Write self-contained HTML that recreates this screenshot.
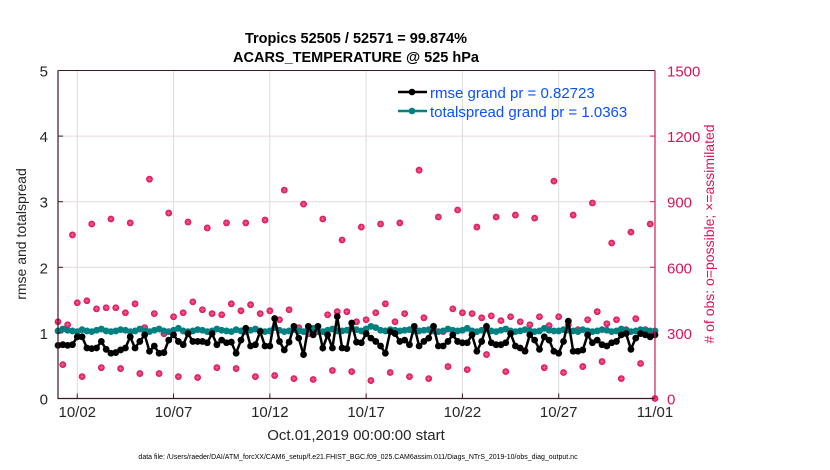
<!DOCTYPE html>
<html><head><meta charset="utf-8">
<style>
html,body{margin:0;padding:0;background:#fff;}
svg{display:block;font-family:"Liberation Sans",Arial,sans-serif;}
</style></head>
<body>
<svg id="chart" width="830" height="470" viewBox="0 0 830 470" xmlns="http://www.w3.org/2000/svg">
  <rect width="830" height="470" fill="#fff"/>
  <text x="356" y="43" text-anchor="middle" font-size="14.5" font-weight="bold" fill="#000">Tropics 52505 / 52571 = 99.874%</text>
  <text x="356" y="62" text-anchor="middle" font-size="14.5" font-weight="bold" fill="#000">ACARS_TEMPERATURE @ 525 hPa</text>
  <g id="grid"></g>
  <g id="series"></g>
  <g id="axes"></g>
  <text transform="translate(26,234) rotate(-90)" text-anchor="middle" font-size="14" fill="#262626">rmse and totalspread</text>
  <text transform="translate(714,234) rotate(-90)" text-anchor="middle" font-size="14" fill="#d6155f"># of obs: o=possible; ×=assimilated</text>
  <text x="356" y="440" text-anchor="middle" font-size="15" fill="#262626">Oct.01,2019 00:00:00 start</text>
  <text x="358" y="459" text-anchor="middle" font-size="7" fill="#000">data file: /Users/raeder/DAI/ATM_forcXX/CAM6_setup/f.e21.FHIST_BGC.f09_025.CAM6assim.011/Diags_NTrS_2019-10/obs_diag_output.nc</text>
  <g>
    <line x1="398" y1="92" x2="427" y2="92" stroke="#000" stroke-width="2.5"/>
    <circle cx="412" cy="92" r="3.3" fill="#000"/>
    <text x="430" y="98" font-size="15" fill="#0a50ff">rmse grand pr = 0.82723</text>
    <line x1="398" y1="111" x2="427" y2="111" stroke="#008080" stroke-width="2.5"/>
    <circle cx="412" cy="111" r="3.3" fill="#008080"/>
    <text x="430" y="117" font-size="15" fill="#0a50ff">totalspread grand pr = 1.0363</text>
  </g>
</svg>
<script>
// time in days since Oct 01 00Z, 6-hourly
const obsCounts = [
351,155,337,748, 438,100,447,798, 410,141,415,821, 415,137,392,803,
433,114,324,1003, 388,114,296,848, 374,100,392,807, 442,96,406,780,
388,141,383,803, 433,137,401,803, 429,100,388,816, 401,105,360,953,
406,91,324,889, 296,87,306,821, 383,128,397,725, 397,123,351,784,
360,82,392,798, 433,119,351,803, 388,100,315,1044, 369,91,315,830,
306,146,410,862, 392,132,388,784, 369,201,378,830, 356,123,374,839,
351,219,337,825, 374,141,333,994, 374,119,337,839, 315,146,360,894,
397,169,342,711, 360,91,315,761, 365,160,315,798, 0];
const rmseValues = [
.81,.82,.81,.82, .94,.94,.77,.76, .77,.87,.75,.69, .70,.74,.77,.94,
.77,.87,.97,.72, .80,.69,.70,.89, .97,.87,.82,.99, .87,.87,.87,.85,
.99,.82,.89,.85, .86,.69,.89,1.07, .80,.82,1.02,.80, .80,1.22,.87,.74,
.86,1.10,.92,.67, 1.10,.97,1.10,.77, .97,.77,1.25,.77, .76,1.15,.86,.85,
.99,.92,.87,.80, .69,1.02,.99,.87, .89,.82,1.10,.80, .87,.92,1.10,.80,
.80,.87,.97,.87, .85,.85,.97,.72, .87,1.10,.85,.82, .82,.85,.99,.80,
.77,.72,.97,.89, .75,.94,.89,.72, .69,.87,1.18,.72, .72,.74,.97,.85,
.89,.82,.80,.85, .87,.97,.99,.75, .92,.99,.97,.94, .97];
const spreadValues = [
1.03,1.06,1.04,1.03, 1.02,1.05,1.03,1.02, 1.04,1.06,1.03,1.02, 1.03,1.05,1.04,1.02,
1.03,1.06,1.03,1.02, 1.04,1.06,1.03,1.02, 1.04,1.07,1.03,1.02, 1.03,1.05,1.04,1.02,
1.03,1.06,1.04,1.03, 1.02,1.05,1.03,1.02, 1.04,1.06,1.03,1.02, 1.03,1.08,1.04,1.02,
1.03,1.05,1.03,1.02, 1.05,1.07,1.03,1.02, 1.04,1.06,1.03,1.03, 1.04,1.07,1.05,1.03,
1.06,1.10,1.08,1.04, 1.03,1.05,1.04,1.03, 1.04,1.05,1.03,1.03, 1.04,1.05,1.03,1.02,
1.03,1.06,1.04,1.03, 1.04,1.07,1.03,1.02, 1.04,1.06,1.03,1.02, 1.04,1.06,1.03,1.02,
1.03,1.05,1.03,1.02, 1.03,1.07,1.04,1.03, 1.03,1.05,1.04,1.03, 1.02,1.05,1.03,1.02,
1.03,1.05,1.04,1.02, 1.03,1.06,1.04,1.02, 1.03,1.05,1.03,1.03, 1.03];
const xTickDays = [1,6,11,16,21,26,31];
const xTickLabels = ["10/02","10/07","10/12","10/17","10/22","10/27","11/01"];
const leftTicks = [0,1,2,3,4,5];
const rightTicks = [0,300,600,900,1200,1500];

const NS = "http://www.w3.org/2000/svg";
const L = 58, R = 655, T = 70.5, B = 398.5;
const X0 = 0, X1 = 31, YMAX = 5, OMAX = 1500;
function xs(t){ return L + (t - X0) / (X1 - X0) * (R - L); }
function yl(v){ return B - v / YMAX * (B - T); }
function yr(v){ return B - v / OMAX * (B - T); }
function mk(tag, attrs, parent){
  const e = document.createElementNS(NS, tag);
  for (const k in attrs) e.setAttribute(k, attrs[k]);
  parent.appendChild(e);
  return e;
}
const grid = document.getElementById('grid');
const series = document.getElementById('series');
const axes = document.getElementById('axes');

xTickDays.forEach((d,i) => {
  const g = mk('line', {x1:xs(d), x2:xs(d), y1:T, y2:B, stroke:'#dcdcdc', 'stroke-width':1}, grid);
  
  
  const tk = mk('line', {x1:xs(d), x2:xs(d), y1:B, y2:B-5, stroke:'#3a1a22', 'stroke-width':1}, axes);
  
  
  const tx = mk('text', {x:xs(d), y:417, 'text-anchor':'middle', 'font-size':15, fill:'#262626'}, axes);
  tx.textContent = xTickLabels[i];
  
  
});
rightTicks.forEach(v => {
  if (v > 0 && v < OMAX) {
    const g = mk('line', {x1:L, x2:R, y1:yr(v), y2:yr(v), stroke:'#ecd6de', 'stroke-width':1}, grid);
    
    
  }
  const tx = mk('text', {x:667, y:yr(v)+6, 'font-size':15, fill:'#d6155f'}, axes);
  tx.textContent = v;
  
  
  const tk = mk('line', {x1:R, x2:R-5, y1:yr(v), y2:yr(v), stroke:'#d6155f'}, axes);
  
  
});
leftTicks.forEach(v => {
  const tx = mk('text', {x:48, y:yl(v)+6, 'text-anchor':'end', 'font-size':15, fill:'#262626'}, axes);
  tx.textContent = v;
  
  
  const tk = mk('line', {x1:L, x2:L+5, y1:yl(v), y2:yl(v), stroke:'#3a1a22'}, axes);
  
  
});
const sp1 = mk('path', {d:`M${L},${T} L${L},${B} L${R},${B}`, fill:'none', stroke:'#3a1a22', 'stroke-width':1.2}, axes);


const sp2 = mk('path', {d:`M${L},${T} L${R},${T}`, fill:'none', stroke:'#3a1a22', 'stroke-width':1}, axes);


const sp3 = mk('line', {x1:R, x2:R, y1:T, y2:B, stroke:'#d6155f', 'stroke-width':1.2}, axes);



const step = 0.25;
obsCounts.forEach((v,i) => {
  const cx = xs(i*step), cy = yr(v);
  const g = mk('g', {}, series);
  
  
  mk('circle', {cx:cx, cy:cy, r:3.4, fill:'#df1a5e'}, g);
  mk('path', {d:`M${cx-2.5},${cy} h5 M${cx},${cy-2.5} v5 M${cx-1.8},${cy-1.8} l3.6,3.6 M${cx-1.8},${cy+1.8} l3.6,-3.6`, stroke:'#f070a0', 'stroke-width':0.5}, g);
});
const spPts = spreadValues.map((v,i) => `${xs(i*step).toFixed(1)},${yl(v).toFixed(1)}`).join(' ');
const spL = mk('polyline', {points:spPts, fill:'none', stroke:'#008080', 'stroke-width':3}, series);


spreadValues.forEach((v,i) => {
  const c = mk('circle', {cx:xs(i*step), cy:yl(v), r:3.4, fill:'#008080'}, series);
  
  
});
const rmPts = rmseValues.map((v,i) => `${xs(i*step).toFixed(1)},${yl(v).toFixed(1)}`).join(' ');
const rmL = mk('polyline', {points:rmPts, fill:'none', stroke:'#000', 'stroke-width':2.5}, series);


rmseValues.forEach((v,i) => {
  const c = mk('circle', {cx:xs(i*step), cy:yl(v), r:3.4, fill:'#000'}, series);
  
  
});
</script>
</body></html>
